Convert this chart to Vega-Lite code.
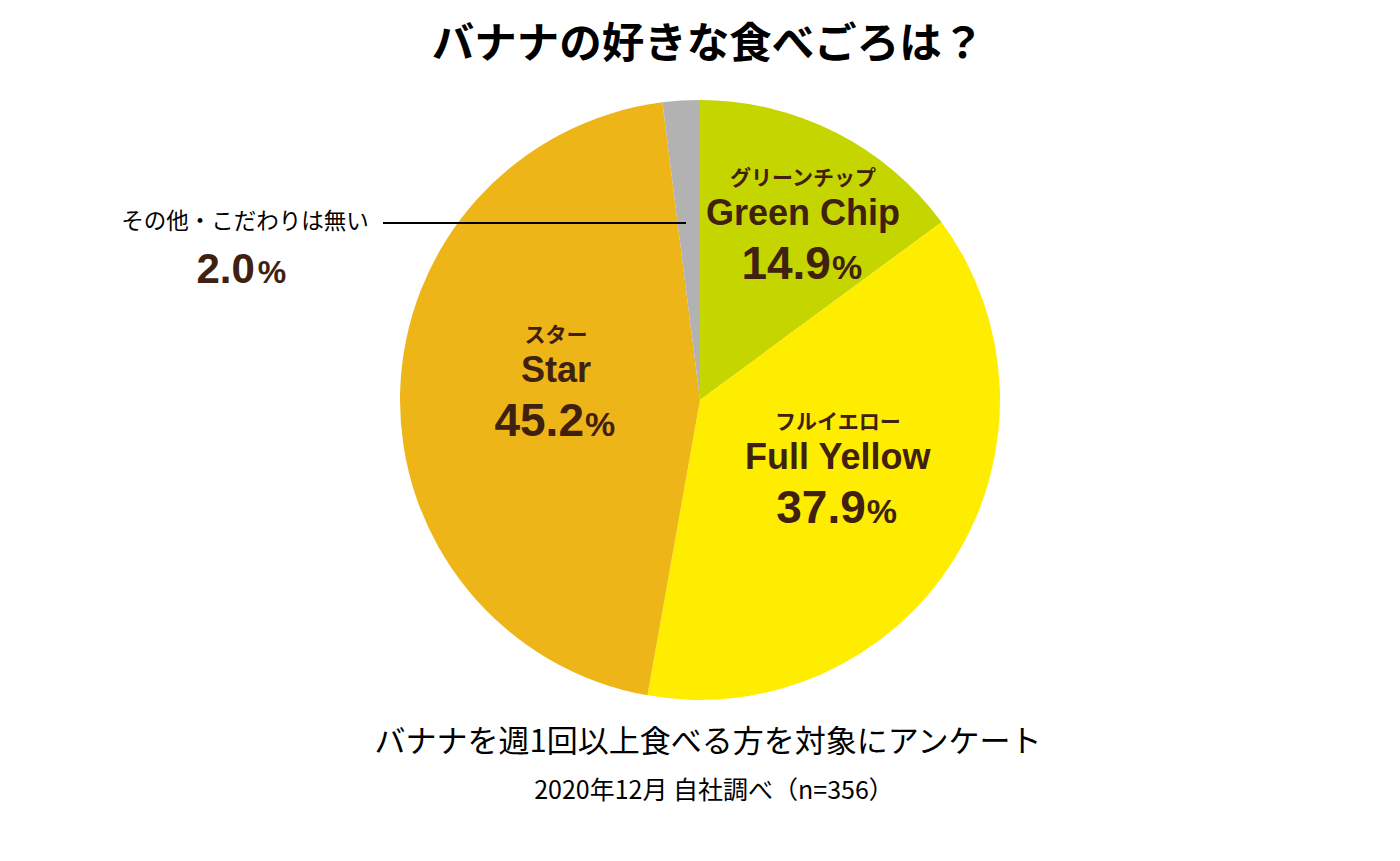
{
  "$schema": "https://vega.github.io/schema/vega-lite/v6.json",
  "width": 1400,
  "height": 640,
  "autosize": {"type": "none"},
  "padding": {"top": 80, "bottom": 141, "left": 0, "right": 0},
  "background": "white",
  "config": {"view": {"stroke": null}},
  "title": {
    "text": "バナナの好きな食べごろは？",
    "font": "Noto Sans CJK JP",
    "fontSize": 42.5,
    "fontWeight": "bold",
    "color": "#000000",
    "anchor": "middle",
    "dx": 8,
    "offset": 14
  },
  "data": {
    "values": [
      {"rank": 1, "category": "Green Chip", "kana": "グリーンチップ", "value": 14.9},
      {"rank": 2, "category": "Full Yellow", "kana": "フルイエロー", "value": 37.9},
      {"rank": 3, "category": "Star", "kana": "スター", "value": 45.2},
      {"rank": 4, "category": "その他・こだわりは無い", "kana": "", "value": 2.0}
    ]
  },
  "layer": [
    {
      "encoding": {
        "theta": {"field": "value", "type": "quantitative", "stack": true},
        "order": {"field": "rank", "type": "quantitative"}
      },
      "layer": [
        {
          "mark": {"type": "arc", "outerRadius": 300, "strokeWidth": 0},
          "encoding": {
            "color": {
              "field": "category",
              "type": "nominal",
              "scale": {
                "domain": ["Green Chip", "Full Yellow", "Star", "その他・こだわりは無い"],
                "range": ["#C5D500", "#FFED00", "#EEB518", "#B2B2B2"]
              },
              "legend": null
            }
          }
        },
        {
          "mark": {"type": "text", "font": "Noto Sans CJK JP", "fontSize": 22.5, "fill": "#000000", "baseline": "middle", "align": "right", "dx": -320},
          "encoding": {
            "radius": {"value": 178},
            "text": {"condition": {"test": "datum.rank !== 4", "value": ""}, "field": "category", "type": "nominal"}
          }
        },
        {
          "mark": {"type": "text", "font": "Liberation Sans", "fontWeight": "bold", "fontSize": 42, "fill": "#40210F", "baseline": "alphabetic", "align": "right", "dx": -434, "dy": 61},
          "encoding": {
            "radius": {"value": 178},
            "text": {"condition": {"test": "datum.rank !== 4", "value": ""}, "field": "value", "type": "quantitative", "format": ".1f"}
          }
        },
        {
          "mark": {"type": "text", "font": "Liberation Sans", "fontWeight": "bold", "fontSize": 32, "fill": "#40210F", "baseline": "alphabetic", "align": "left", "dx": -431, "dy": 61},
          "encoding": {
            "radius": {"value": 178},
            "text": {"condition": {"test": "datum.rank !== 4", "value": ""}, "value": "%"}
          }
        }
      ]
    },
    {
      "transform": [
        {"stack": "value", "groupby": [], "sort": [{"field": "rank", "order": "ascending"}], "as": ["v0", "v1"]}
      ],
      "encoding": {
        "theta": {"field": "v0", "type": "quantitative", "scale": {"type": "pow", "exponent": 0.866, "domain": [0, 100], "range": [0.5079, 8.151]}},
        "radius": {"field": "value", "type": "quantitative", "scale": {"type": "pow", "exponent": -2, "domain": [14.9, 45.2], "range": [211.7, 146.7], "zero": false, "clamp": true}}
      },
      "layer": [
        {
          "mark": {"type": "text", "font": "Noto Sans CJK JP", "fontWeight": "bold", "fontSize": 21, "fill": "#40210F", "baseline": "middle", "align": "center", "dy": -36},
          "encoding": {"text": {"field": "kana", "type": "nominal"}}
        },
        {
          "mark": {"type": "text", "font": "Liberation Sans", "fontWeight": "bold", "fontSize": 36, "fill": "#40210F", "baseline": "alphabetic", "align": "center", "dy": 10},
          "encoding": {
            "text": {"condition": {"test": "datum.rank === 4", "value": ""}, "field": "category", "type": "nominal"}
          }
        },
        {
          "mark": {"type": "text", "font": "Liberation Sans", "fontWeight": "bold", "fontSize": 46, "fill": "#40210F", "baseline": "alphabetic", "align": "right", "dx": 28, "dy": 64},
          "encoding": {
            "text": {"condition": {"test": "datum.rank === 4", "value": ""}, "field": "value", "type": "quantitative", "format": ".1f"}
          }
        },
        {
          "mark": {"type": "text", "font": "Liberation Sans", "fontWeight": "bold", "fontSize": 34, "fill": "#40210F", "baseline": "alphabetic", "align": "left", "dx": 29, "dy": 64},
          "encoding": {
            "text": {"condition": {"test": "datum.rank === 4", "value": ""}, "value": "%"}
          }
        }
      ]
    },
    {
      "data": {"values": [{"line": "leader"}]},
      "mark": {"type": "rule", "stroke": "#000000", "strokeWidth": 2},
      "encoding": {"x": {"value": 383}, "x2": {"value": 686}, "y": {"value": 143}}
    },
    {
      "data": {"values": [{"note": "バナナを週1回以上食べる方を対象にアンケート"}]},
      "mark": {"type": "text", "font": "Noto Sans CJK JP", "fontSize": 31, "fill": "#000000", "baseline": "middle", "align": "center", "dx": 8, "dy": 343},
      "encoding": {"text": {"field": "note", "type": "nominal"}}
    },
    {
      "data": {"values": [{"note": "2020年12月 自社調べ（n=356）"}]},
      "mark": {"type": "text", "font": "Noto Sans CJK JP", "fontSize": 25, "fill": "#000000", "baseline": "middle", "align": "center", "dx": 14, "dy": 391},
      "encoding": {"text": {"field": "note", "type": "nominal"}}
    }
  ],
  "resolve": {"scale": {"theta": "independent", "radius": "independent"}}
}
